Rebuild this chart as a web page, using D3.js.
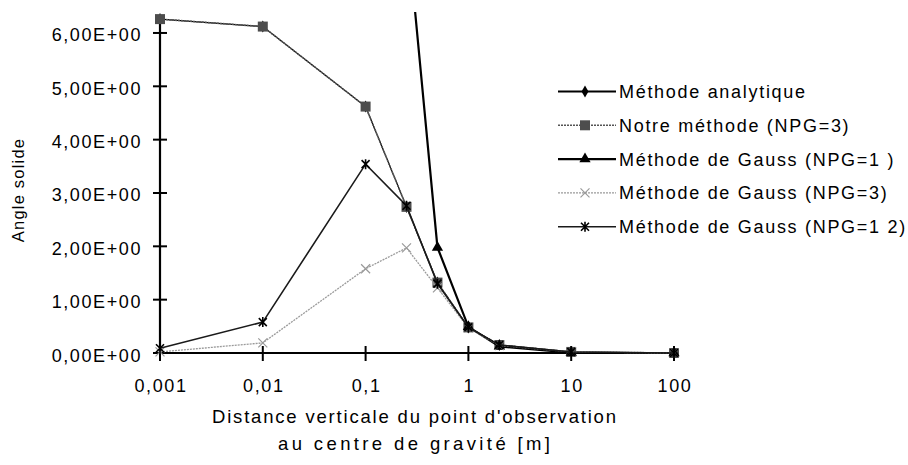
<!DOCTYPE html>
<html>
<head>
<meta charset="utf-8">
<script src="https://cdn.jsdelivr.net/npm/d3@7"></script>
<style>
  html, body { margin: 0; padding: 0; background: #fff; }
  svg { display: block; }
  text { font-family: "Liberation Sans", Arial, sans-serif; fill: #000; }
</style>
</head>
<body>
<script>
// ---- data ----
const distances = [0.001, 0.01, 0.1, 0.25, 0.5, 1, 2, 10, 100];
const analytique = [6.26, 6.12, 4.62, 2.74, 1.32, 0.48, 0.15, 0.02, 0.0002];
const notreMethode = [6.26, 6.12, 4.62, 2.74, 1.32, 0.48, 0.15, 0.02, 0.0002];
const gaussNPG1 = [500000, 5000, 50, 8.1, 1.98, 0.49, 0.125, 0.005, 0.00005];
const gaussNPG3 = [0.02, 0.19, 1.58, 1.97, 1.22, 0.47, 0.14, 0.02, 0.0002];
const gaussNPG12 = [0.09, 0.58, 3.54, 2.76, 1.3, 0.48, 0.15, 0.02, 0.0002];

const seriesNames = [
  "Méthode analytique",
  "Notre méthode (NPG=3)",
  "Méthode de Gauss (NPG=1 )",
  "Méthode de Gauss (NPG=3)",
  "Méthode de Gauss (NPG=1 2)"
];
const xTickValues = [0.001, 0.01, 0.1, 1, 10, 100];
const xTickLabels = ["0,001", "0,01", "0,1", "1", "10", "100"];
const yTickValues = [0, 1, 2, 3, 4, 5, 6];
const yTickLabels = ["0,00E+00", "1,00E+00", "2,00E+00", "3,00E+00", "4,00E+00", "5,00E+00", "6,00E+00"];
const yTitle = "Angle solide";
const xTitle = ["Distance verticale du point d'observation", "au centre de gravité [m]"];

// ---- layout ----
const W = 908, H = 465;
const svg = d3.select("body").append("svg").attr("width", W).attr("height", H);

const x = d3.scaleLog().domain([0.001, 100]).range([160, 674]);
const y = d3.scaleLinear().domain([0, 6.35]).range([353, 14.3]);

const styles = [
  { color: "#000", width: 2.2, plotWidth: 1.2, dash: null, marker: "diamond", mfill: "#000", msize: 42 },
  { color: "#555", width: 1.6, plotWidth: 1.6, dash: "2,1", marker: "square", mfill: "#4d4d4d", msize: 100 },
  { color: "#000", width: 2.2, plotWidth: 2.2, dash: null, marker: "triangle", mfill: "#000", msize: 55 },
  { color: "#9a9a9a", width: 1.3, plotWidth: 1.3, dash: "2,1", marker: "x", mfill: "#9a9a9a", msize: 4.5 },
  { color: "#1a1a1a", width: 1.6, plotWidth: 1.6, dash: null, marker: "star", mfill: "#000", msize: 4 }
];
const allSeries = [analytique, notreMethode, gaussNPG1, gaussNPG3, gaussNPG12];

// clip
svg.append("defs").append("clipPath").attr("id", "plotclip")
  .append("rect").attr("x", 140).attr("y", 12).attr("width", 560).attr("height", 360);

// axes (scale-driven, ticks drawn below)
const gx = svg.append("g").attr("transform", "translate(0,353)");
gx.call(d3.axisBottom(x).tickValues(xTickValues).tickFormat((d, i) => xTickLabels[i]).tickSize(0).tickPadding(0));
gx.select(".domain").remove();
gx.selectAll(".tick text").remove();

const gy = svg.append("g").attr("transform", "translate(160,0)");
gy.call(d3.axisLeft(y).tickValues(yTickValues).tickSize(0));
gy.select(".domain").remove();
gy.selectAll(".tick text").remove();

// axis lines
svg.append("line").attr("x1", 160).attr("x2", 160).attr("y1", 15).attr("y2", 354)
  .attr("stroke", "#000").attr("stroke-width", 2.2);
svg.append("line").attr("x1", 159).attr("x2", 675).attr("y1", 353).attr("y2", 353)
  .attr("stroke", "#000").attr("stroke-width", 2.2);

// y ticks
svg.selectAll(".ytick").data(yTickValues).enter().append("line")
  .attr("x1", 153).attr("x2", 167)
  .attr("y1", d => y(d)).attr("y2", d => y(d))
  .attr("stroke", "#000").attr("stroke-width", 2);
svg.selectAll(".ylab").data(yTickValues).enter().append("text")
  .attr("x", 142).attr("y", d => y(d) + 8.5)
  .attr("text-anchor", "end")
  .style("font-size", "18px").style("letter-spacing", "1.6px")
  .text((d, i) => yTickLabels[i]);

// x ticks
svg.selectAll(".xtick").data(xTickValues).enter().append("line")
  .attr("x1", d => x(d)).attr("x2", d => x(d))
  .attr("y1", 346).attr("y2", 361)
  .attr("stroke", "#000").attr("stroke-width", 2);
svg.selectAll(".xlab").data(xTickValues).enter().append("text")
  .attr("x", d => x(d) + 1).attr("y", 392)
  .attr("text-anchor", "middle")
  .style("font-size", "18px").style("letter-spacing", "1.6px")
  .text((d, i) => xTickLabels[i]);

// titles
svg.append("text")
  .attr("transform", "translate(24,190) rotate(-90)")
  .attr("text-anchor", "middle")
  .style("font-size", "16.5px").style("letter-spacing", "1.2px")
  .text(yTitle);
const titleLens = [404, 272];
xTitle.forEach((t, i) => {
  svg.append("text").attr("x", 414 - titleLens[i] / 2).attr("y", 423 + i * 27)
    .attr("textLength", titleLens[i]).attr("lengthAdjust", "spacing")
    .style("font-size", "18.5px")
    .text(t);
});

// marker drawing
function drawMarker(g, type, cx, cy, st) {
  if (type === "diamond") {
    g.append("path").attr("d", d3.symbol(d3.symbolDiamond, st.msize)())
      .attr("transform", `translate(${cx},${cy})`).attr("fill", st.mfill);
  } else if (type === "square") {
    g.append("path").attr("d", d3.symbol(d3.symbolSquare, st.msize)())
      .attr("transform", `translate(${cx},${cy})`).attr("fill", st.mfill);
  } else if (type === "triangle") {
    g.append("path").attr("d", d3.symbol(d3.symbolTriangle, st.msize)())
      .attr("transform", `translate(${cx},${cy})`).attr("fill", st.mfill);
  } else if (type === "x") {
    const r = st.msize;
    g.append("path")
      .attr("d", `M${cx - r},${cy - r}L${cx + r},${cy + r}M${cx - r},${cy + r}L${cx + r},${cy - r}`)
      .attr("stroke", st.mfill).attr("stroke-width", 1.2).attr("fill", "none");
  } else if (type === "star") {
    const r = st.msize;
    g.append("path")
      .attr("d", `M${cx - r},${cy - r}L${cx + r},${cy + r}M${cx - r},${cy + r}L${cx + r},${cy - r}M${cx},${cy - r - 1}L${cx},${cy + r + 1}`)
      .attr("stroke", st.mfill).attr("stroke-width", 1.6).attr("fill", "none");
  }
}

// series
const plot = svg.append("g").attr("clip-path", "url(#plotclip)");
const line = d3.line().x(d => x(d[0])).y(d => y(d[1]));
allSeries.forEach((vals, si) => {
  const st = styles[si];
  const pts = distances.map((d, i) => [d, vals[i]]);
  const g = plot.append("g");
  g.append("path").attr("d", line(pts))
    .attr("fill", "none").attr("stroke", st.color).attr("stroke-width", st.plotWidth)
    .attr("stroke-dasharray", st.dash);
  pts.forEach(p => {
    if (y(p[1]) > 5) drawMarker(g, st.marker, x(p[0]), y(p[1]), st);
  });
});

// legend
const legY0 = 91.5, legDy = 33.8;
seriesNames.forEach((name, i) => {
  const st = styles[i];
  const ly = legY0 + i * legDy;
  const g = svg.append("g");
  g.append("line").attr("x1", 558).attr("x2", 616).attr("y1", ly).attr("y2", ly)
    .attr("stroke", st.color).attr("stroke-width", st.width).attr("stroke-dasharray", st.dash);
  drawMarker(g, st.marker, 585, ly, st);
  g.append("text").attr("x", 619).attr("y", ly + 6.5)
    .style("font-size", "18px").style("letter-spacing", "1.7px")
    .text(name);
});
</script>
</body>
</html>
